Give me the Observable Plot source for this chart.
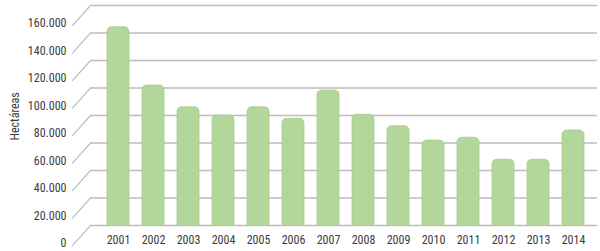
<!DOCTYPE html>
<html>
<head>
<meta charset="utf-8">
<script src="https://cdn.jsdelivr.net/npm/d3@7"></script>
<script src="https://cdn.jsdelivr.net/npm/@observablehq/plot@0.6"></script>
<style>
  html, body { margin: 0; padding: 0; background: #fff; }
  #chart svg { display: block; }
</style>
</head>
<body>
<div id="chart"></div>
<script>
const years = ["2001","2002","2003","2004","2005","2006","2007","2008","2009","2010","2011","2012","2013","2014"];
const hectareas = [144200, 101800, 86000, 80000, 86000, 77600, 98200, 80500, 72200, 61800, 63800, 47800, 47800, 69100];
const yTicks = [0, 20000, 40000, 60000, 80000, 100000, 120000, 140000, 160000];
const yLabel = "Hectáreas";

const data = years.map((y, i) => ({year: y, value: hectareas[i]}));
const fmt = v => d3.format(",")(v).replace(/,/g, ".");
const font = "'Liberation Sans Narrow', 'Arial Narrow', 'Roboto Condensed', sans-serif";

const lineShape = {
  draw(context, l) { context.moveTo(0, 0); context.lineTo(0, -l); }
};

const chart = Plot.plot({
  width: 600,
  height: 251,
  marginLeft: 90,
  marginRight: 3,
  marginTop: 5,
  marginBottom: 26,
  style: {fontFamily: font, fontSize: "12px", color: "#3c3c3c", background: "#fff"},
  x: {domain: years, range: [94.6, 596.4], paddingInner: 0.36, paddingOuter: 0.18, align: 0.5},
  y: {domain: [0, 160000], range: [225, 5]},
  marks: [
    Plot.ruleY(yTicks, {stroke: "#bdbdbd", strokeWidth: 1.5}),
    Plot.vector(yTicks, {y: d => d, frameAnchor: "left", anchor: "start", length: 27, rotate: 222, shape: lineShape, stroke: "#bdbdbd", strokeWidth: 1.2}),
    Plot.barY(data, {x: "year", y: "value", fill: "#b3d69b", stroke: "#a6cd8c", strokeWidth: 0.8, rx: 4.5, ry: 4.5, insetBottom: -10, clip: "frame"}),
    Plot.axisY(yTicks, {anchor: "left", tickSize: 0, tickPadding: 24, dy: 18, tickFormat: fmt, label: null, fill: "#3c3c3c", fontSize: 12}),
    Plot.axisX({anchor: "bottom", tickSize: 0, tickPadding: 10, label: null, fill: "#3c3c3c", fontSize: 12}),
    Plot.text([yLabel], {frameAnchor: "left", dx: -75, dy: 25, rotate: -90, fill: "#3c3c3c", fontSize: 12})
  ]
});
document.getElementById("chart").appendChild(chart);
</script>
</body>
</html>
